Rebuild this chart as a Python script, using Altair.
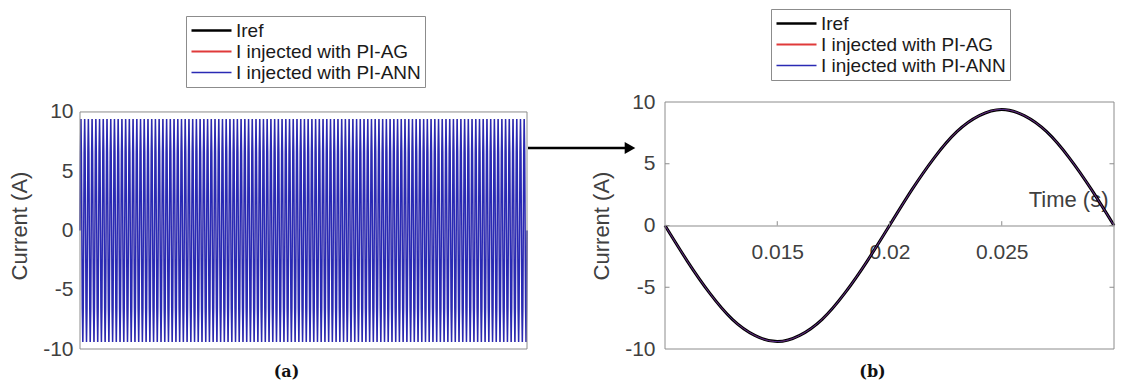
import altair as alt
import numpy as np
import pandas as pd

# ---------------- data ----------------
series_names = ["Iref", "I injected with PI-AG", "I injected with PI-ANN"]
series_colors = ["#000000", "#e03a3a", "#2a2ab4"]
legend_widths = [2.6, 1.4, 1.4]

# (a) full record: one cycle of samples (A) repeated over the visible cycles
cycle_a = [0.0, 6.6, 9.4, 6.6, 0.0, -6.6, -9.4, -6.6]
n_cycles_a = 120
step_a = 0.0025  # s per sample (50 Hz)

# (b) zoom on one period
time_b = [0.010, 0.011, 0.012, 0.013, 0.014, 0.015, 0.016, 0.017, 0.018, 0.019, 0.020,
          0.021, 0.022, 0.023, 0.024, 0.025, 0.026, 0.027, 0.028, 0.029, 0.030]
current_b = [0.0, -2.9, -5.5, -7.6, -8.9, -9.4, -8.9, -7.6, -5.5, -2.9, 0.0,
             2.9, 5.5, 7.6, 8.9, 9.4, 8.9, 7.6, 5.5, 2.9, 0.0]

y_ticks = [-10, -5, 0, 5, 10]
x_ticks_b = [0.015, 0.02, 0.025]
y_inner_ticks_b = [-5, 0, 5]

# ---------------- styling ----------------
FONT = "Liberation Sans"
TXT = "#404040"
BOX = "#8c8c8c"
W_A, W_B, H = 447, 449, 247
SPACING = 138
widths_a = [1.0, 1.0, 1.5]
opac_a = [0.15, 0.15, 1.0]
widths_b = [3.0, 1.0, 1.0]
opac_b = [1.0, 0.7, 0.7]

# ---------------- tables ----------------
vals_a = list(np.tile(cycle_a, n_cycles_a)) + [cycle_a[0]]
t_a = np.arange(len(vals_a)) * step_a
t_a_max = float(t_a[-1])
df_a = pd.concat([pd.DataFrame({"time": t_a, "current": vals_a, "series": s}) for s in series_names],
                 ignore_index=True)
df_b = pd.concat([pd.DataFrame({"time": time_b, "current": current_b, "series": s}) for s in series_names],
                 ignore_index=True)


def legend(ly):
    return alt.Legend(
        title=None, orient="none", legendX=106, legendY=ly, direction="vertical",
        symbolType="stroke", symbolSize=1600, labelFont=FONT, labelFontSize=19,
        labelColor="#1a1a1a", labelOffset=3, clipHeight=21, rowPadding=0, padding=4,
        strokeColor=BOX, fillColor="white", labelLimit=400, symbolOpacity=1,
    )


def y_axis(label_pad, title_pad):
    return alt.Axis(values=y_ticks, title="Current (A)", grid=False, domain=False, ticks=False,
                    labelExpr="toString(datum.value)",
                    labelPadding=label_pad, titlePadding=title_pad, labelFont=FONT, titleFont=FONT,
                    labelFontSize=21, titleFontSize=22, titleFontWeight="normal",
                    labelColor=TXT, titleColor=TXT)


def panel_title(txt):
    return alt.TitleParams(txt, orient="bottom", anchor="middle", frame="group", offset=5, dx=-17,
                           font="DejaVu Serif", fontSize=16, fontWeight="bold", color="#111111")


def line_layers(x, y, ly, widths, opac, interp):
    col = alt.Color("series:N", scale=alt.Scale(domain=series_names, range=series_colors), legend=legend(ly))
    sw = alt.StrokeWidth("series:N", scale=alt.Scale(domain=series_names, range=legend_widths),
                         legend=legend(ly))
    layers = []
    for k, s in enumerate(series_names):
        layers.append(
            alt.Chart().transform_filter(alt.datum.series == s)
            .mark_line(strokeWidth=widths[k], opacity=opac[k], interpolate=interp)
            .encode(x=x, y=y, color=col)
        )
    # legend-only layer (no rows): gives the legend its per-entry line widths
    layers.append(
        alt.Chart().transform_filter("false").mark_line()
        .encode(x=x, y=y, color=col, strokeWidth=sw)
    )
    return layers


# ---------------- panel (a) ----------------
ax_ya = y_axis(7, 11)
xa = alt.X("time:Q", axis=None, scale=alt.Scale(domain=[0, t_a_max], nice=False, zero=False))
ya = alt.Y("current:Q", scale=alt.Scale(domain=[-10, 10.84], nice=False, zero=False), axis=ax_ya)

box_a = alt.Chart(alt.Data(values=[{}])).mark_rect(fillOpacity=0, stroke=BOX, strokeWidth=1).encode(
    x=alt.XDatum(0.0, type="quantitative", axis=None), x2=alt.X2Datum(t_a_max),
    y=alt.YDatum(-10, type="quantitative", axis=ax_ya), y2=alt.Y2Datum(10),
)
arrow_line = alt.Chart(alt.Data(values=[{}])).mark_rule(color="black", strokeWidth=2.5).encode(
    x=alt.value(W_A + 1), x2=alt.value(W_A + 98), y=alt.value(46)
)
arrow_head = alt.Chart(alt.Data(values=[{}])).mark_point(
    shape="triangle-right", filled=True, color="black", opacity=1, size=150
).encode(x=alt.value(W_A + 103), y=alt.value(46))

panel_a = alt.layer(*line_layers(xa, ya, -86, widths_a, opac_a, "linear"),
                    box_a, arrow_line, arrow_head, data=df_a).properties(
    width=W_A, height=H, title=panel_title("(a)")
)

# ---------------- panel (b) ----------------
ax_xb = alt.Axis(values=x_ticks_b, title="Time (s)", offset=-H / 2, ticks=False, grid=False,
                 domain=True, domainColor=BOX, domainWidth=1.2, labelPadding=16,
                 labelExpr="toString(datum.value)",
                 labelFont=FONT, titleFont=FONT, labelFontSize=21, titleFontSize=22,
                 titleFontWeight="normal", labelColor=TXT, titleColor=TXT,
                 titleAnchor="end", titleAlign="right", titleBaseline="alphabetic",
                 titleX=W_B - 6, titleY=-19)
ax_yb = y_axis(10, 11)
xb = alt.X("time:Q", scale=alt.Scale(domain=[0.01, 0.03], nice=False, zero=False), axis=ax_xb)
yb = alt.Y("current:Q", scale=alt.Scale(domain=[-10, 10], nice=False, zero=False), axis=ax_yb)

xticks_b = alt.Chart(pd.DataFrame({"time": x_ticks_b})).mark_rule(color=BOX, strokeWidth=1).encode(
    x=alt.X("time:Q", axis=ax_xb), y=alt.YDatum(0, type="quantitative", axis=ax_yb), y2=alt.Y2Datum(0.35)
)
yticks_left = alt.Chart(pd.DataFrame({"current": y_inner_ticks_b})).mark_rule(color=BOX, strokeWidth=1).encode(
    y=alt.Y("current:Q", axis=ax_yb), x=alt.XDatum(0.01, type="quantitative", axis=ax_xb),
    x2=alt.X2Datum(0.0102)
)
yticks_right = alt.Chart(pd.DataFrame({"current": y_inner_ticks_b})).mark_rule(color=BOX, strokeWidth=1).encode(
    y=alt.Y("current:Q", axis=ax_yb), x=alt.XDatum(0.0298, type="quantitative", axis=ax_xb),
    x2=alt.X2Datum(0.03)
)
box_b = alt.Chart(alt.Data(values=[{}])).mark_rect(fillOpacity=0, stroke=BOX, strokeWidth=1).encode(
    x=alt.XDatum(0.01, type="quantitative", axis=ax_xb), x2=alt.X2Datum(0.03),
    y=alt.YDatum(-10, type="quantitative", axis=ax_yb), y2=alt.Y2Datum(10),
)

panel_b = alt.layer(*line_layers(xb, yb, -93, widths_b, opac_b, "natural"),
                    xticks_b, yticks_left, yticks_right, box_b, data=df_b).properties(
    width=W_B, height=H, title=panel_title("(b)")
)

chart = (
    alt.hconcat(panel_a, panel_b, spacing=SPACING, bounds="flush")
    .resolve_scale(color="independent", strokeWidth="independent")
    .properties(padding={"left": 0, "top": 0, "right": 0, "bottom": 0}, background="white")
    .configure_view(stroke="transparent")
)

chart.save("out.html", embed_options={"renderer": "svg", "actions": False})
